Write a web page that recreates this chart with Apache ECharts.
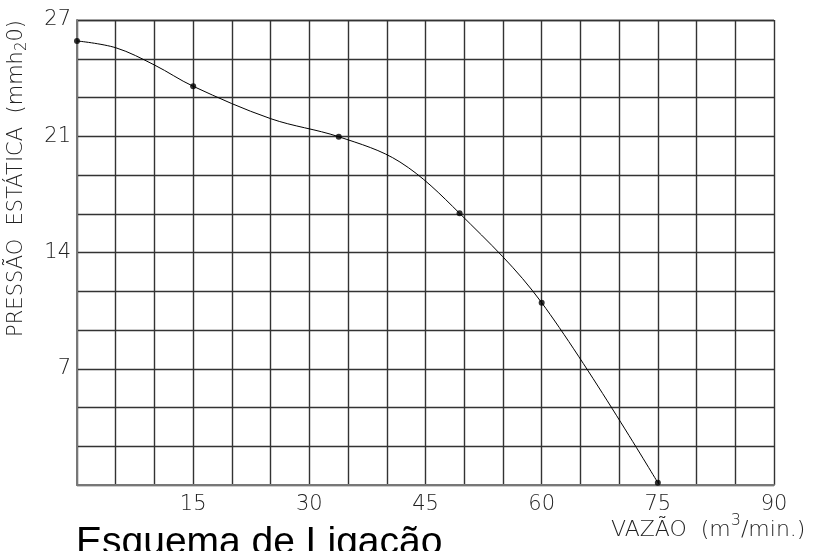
<!DOCTYPE html>
<html>
<head>
<meta charset="utf-8">
<script src="https://cdn.jsdelivr.net/npm/echarts@6/dist/echarts.min.js"></script>
<style>html,body{margin:0;padding:0;background:#fff}#c{width:818px;height:551px}</style>
</head>
<body>
<div id="c"></div>
<script>
// Measured points (markers): flow (m3/min) and static pressure (axis units: 3 cells = 7)
const vazao   = [0,     15,    33.8,  49.4,  60,    75];
const pressao = [26.74, 24.01, 20.97, 16.36, 10.98, 0.14];
// Curve (drawn line through the markers)
const curvaVazao   = [0,     5,     10,    15,    25,    33.8,  41.7,  49.4,  60,    75];
const curvaPressao = [26.74, 26.33, 25.29, 24.01, 22.06, 20.97, 19.45, 16.36, 10.98, 0.14];
const yTickLabels = {7: '7', 14: '14', 21: '21', 28: '27'};
const xTickLabels = [15, 30, 45, 60, 75, 90];

const FONT = '"DejaVu Sans", sans-serif';
const TXT = '#222';
const chart = echarts.init(document.getElementById('c'));
chart.setOption({
  animation: false,
  grid: {left: 77, right: 44, top: 20, bottom: 66},
  xAxis: {
    type: 'value', min: 0, max: 90, interval: 5,
    axisLine: {show: true, lineStyle: {color: '#777', width: 2}},
    axisTick: {show: false},
    splitLine: {show: true, lineStyle: {color: '#333', width: 1.4}},
    axisLabel: {
      color: TXT, fontSize: 21, fontFamily: FONT, fontWeight: 200, margin: 9,
      formatter: v => xTickLabels.indexOf(Math.round(v)) >= 0 && Math.abs(v - Math.round(v)) < 1e-6 ? String(Math.round(v)) : ''
    }
  },
  yAxis: {
    type: 'value', min: 0, max: 28, interval: 7 / 3,
    axisLine: {show: true, lineStyle: {color: '#777', width: 2}},
    axisTick: {show: false},
    splitLine: {show: true, lineStyle: {color: '#333', width: 1.4}},
    axisLabel: {
      color: TXT, fontSize: 21, fontFamily: FONT, fontWeight: 200, margin: 6,
      formatter: v => {
        const r = Math.round(v);
        return Math.abs(v - r) < 1e-6 && yTickLabels[r] ? yTickLabels[r] : '';
      }
    }
  },
  series: [
    {
      type: 'line', data: curvaVazao.map((x, i) => [x, curvaPressao[i]]),
      smooth: 0.35, showSymbol: false, symbol: 'none',
      lineStyle: {color: '#000', width: 1}, z: 3
    },
    {
      type: 'scatter', data: vazao.map((x, i) => [x, pressao[i]]),
      symbol: 'circle', symbolSize: 6, itemStyle: {color: '#000'}, z: 4
    }
  ],
  graphic: [
    {
      type: 'text', left: 6, top: 20, rotation: Math.PI / 2,
      style: {
        text: '{a|PRESSÃO  ESTÁTICA  (mmh}{s|2}{a|0)}',
        rich: {
          a: {fontSize: 21, fontFamily: FONT, fontWeight: 200, fill: TXT},
          s: {fontSize: 15, fontFamily: FONT, fontWeight: 200, fill: TXT, padding: [11, 0, 0, 0]}
        }
      }
    },
    {
      type: 'text', left: 611, top: 513,
      style: {
        text: '{a|VAZÃO  (m}{s|3}{a|/min.)}',
        rich: {
          a: {fontSize: 22, fontFamily: FONT, fontWeight: 200, fill: TXT, padding: [8, 0, 0, 0]},
          s: {fontSize: 16, fontFamily: FONT, fontWeight: 200, fill: TXT, padding: [0, 0, 11, 0]}
        }
      }
    },
    {
      type: 'text', x: 76, y: 524,
      style: {text: 'Esquema de Ligação', fontSize: 39, fontFamily: '"Liberation Sans", Arial, sans-serif', fill: '#000', verticalAlign: 'top'}
    }
  ]
});
</script>
</body>
</html>
